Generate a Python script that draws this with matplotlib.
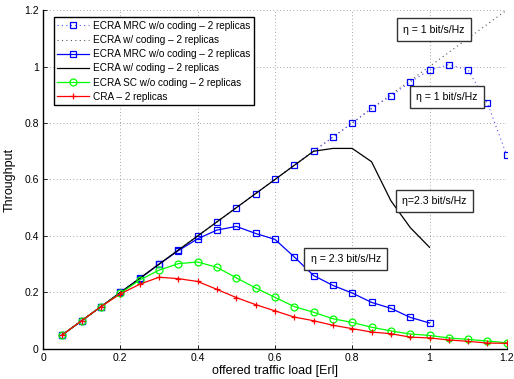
import matplotlib
matplotlib.use("Agg")
import matplotlib.pyplot as plt
import numpy as np

plt.rcParams['font.family'] = ['Liberation Sans', 'DejaVu Sans']

load = [0.05, 0.1, 0.15, 0.2, 0.25, 0.3, 0.35, 0.4, 0.45, 0.5, 0.55, 0.6,
        0.65, 0.7, 0.75, 0.8, 0.85, 0.9, 0.95, 1.0, 1.05, 1.1, 1.15, 1.2]

mrc_eta1 = [0.05, 0.1, 0.15, 0.2, 0.25, 0.3, 0.35, 0.4, 0.45, 0.5, 0.55, 0.6,
            0.65, 0.70, 0.75, 0.80, 0.853, 0.895, 0.945, 0.987, 1.007, 0.987, 0.87, 0.685]
cod_eta1 = [0.05, 0.1, 0.15, 0.2, 0.25, 0.3, 0.35, 0.4, 0.45, 0.5, 0.55, 0.6,
            0.65, 0.7, 0.75, 0.8, 0.85, 0.9, 0.95, 1.0, 1.05, 1.1, 1.15, 1.2]

load_b = load[:20]
mrc_eta23 = [0.05, 0.1, 0.15, 0.2, 0.249, 0.3, 0.348, 0.39, 0.421, 0.434, 0.409, 0.388,
             0.326, 0.26, 0.225, 0.198, 0.165, 0.144, 0.112, 0.092]
cod_eta23 = [0.05, 0.1, 0.15, 0.2, 0.25, 0.3, 0.35, 0.4, 0.45, 0.5, 0.55, 0.6,
             0.65, 0.70, 0.71, 0.71, 0.663, 0.525, 0.43, 0.36]

sc = [0.05, 0.1, 0.15, 0.197, 0.244, 0.279, 0.302, 0.308, 0.289, 0.252, 0.216, 0.183,
      0.150, 0.130, 0.107, 0.094, 0.077, 0.064, 0.053, 0.048, 0.039, 0.034, 0.028, 0.022]
cra = [0.05, 0.1, 0.15, 0.195, 0.229, 0.254, 0.249, 0.239, 0.211, 0.182, 0.157, 0.135,
       0.113, 0.100, 0.084, 0.072, 0.060, 0.054, 0.042, 0.039, 0.032, 0.027, 0.021, 0.020]

labels = ["ECRA MRC w/o coding \u2013 2 replicas",
          "ECRA w/ coding \u2013 2 replicas",
          "ECRA MRC w/o coding \u2013 2 replicas",
          "ECRA w/ coding \u2013 2 replicas",
          "ECRA SC w/o coding \u2013 2 replicas",
          "CRA \u2013 2 replicas"]

fig = plt.figure(figsize=(5.14, 3.79), dpi=100)
ax = fig.add_axes([0.0837, 0.0792, 0.9023, 0.8944])

ax.plot(load, mrc_eta1, linestyle=(0, (1, 3)), color='#5050ff', lw=0.8, marker='s',
        ms=5, mfc='none', mec='#0000ff', mew=0.9, label=labels[0], zorder=3)
ax.plot(load, cod_eta1, linestyle=(0, (1, 3)), color='#555555', lw=0.8, label=labels[1], zorder=2)
ax.plot(load_b, mrc_eta23, '-', color='#0000ff', lw=0.9, marker='s', ms=5, mfc='none',
        mec='#0000ff', mew=0.9, label=labels[2], zorder=3)
ax.plot(load_b, cod_eta23, '-', color='black', lw=0.9, label=labels[3], zorder=3)
ax.plot(load, sc, '-', color='#00ff00', lw=0.9, marker='o', ms=5, mfc='none',
        mec='#00ff00', mew=0.9, label=labels[4], zorder=4)
ax.plot(load, cra, '-', color='#ff0000', lw=0.9, marker='+', ms=5, mew=0.9,
        label=labels[5], zorder=5)

ax.set_xlim(0, 1.2)
ax.set_ylim(0, 1.2)
ax.set_xticks([0, 0.2, 0.4, 0.6, 0.8, 1.0, 1.2])
ax.set_xticklabels(['0', '0.2', '0.4', '0.6', '0.8', '1', '1.2'])
ax.set_yticks([0, 0.2, 0.4, 0.6, 0.8, 1.0, 1.2])
ax.set_yticklabels(['0', '0.2', '0.4', '0.6', '0.8', '1', '1.2'])
ax.grid(True, linestyle=(0, (1, 3)), color='#888888', lw=0.6)
ax.tick_params(direction='in', labelsize=7.5, length=3, width=0.6, pad=3)
for s in ['top', 'right']:
    ax.spines[s].set_visible(False)
for s in ['left', 'bottom']:
    ax.spines[s].set_linewidth(1.0)

ax.set_xlabel('offered traffic load [Erl]', fontsize=9, labelpad=1)
ax.set_ylabel('Throughput', fontsize=9, labelpad=6)

leg = ax.legend(loc='upper left', bbox_to_anchor=(0.012, 0.993), fontsize=7.2,
                handlelength=3.2, labelspacing=0.42, borderpad=0.35, handletextpad=0.4,
                fancybox=False, edgecolor='black', framealpha=1)
leg.get_frame().set_linewidth(1.0)

bbox = dict(boxstyle='square,pad=0.6', fc='white', ec='#333333', lw=1.0)
ax.text(1.012, 1.13, '\u03b7 = 1 bit/s/Hz', fontsize=7.6, ha='center', va='center', bbox=bbox, zorder=6)
ax.text(1.045, 0.892, '\u03b7 = 1 bit/s/Hz', fontsize=7.6, ha='center', va='center', bbox=bbox, zorder=6)
ax.text(1.012, 0.524, '\u03b7=2.3 bit/s/Hz', fontsize=7.6, ha='center', va='center', bbox=bbox, zorder=6)
ax.text(0.783, 0.319, '\u03b7 = 2.3 bit/s/Hz', fontsize=7.6, ha='center', va='center', bbox=bbox, zorder=6)

fig.savefig('out.png', dpi=100)
